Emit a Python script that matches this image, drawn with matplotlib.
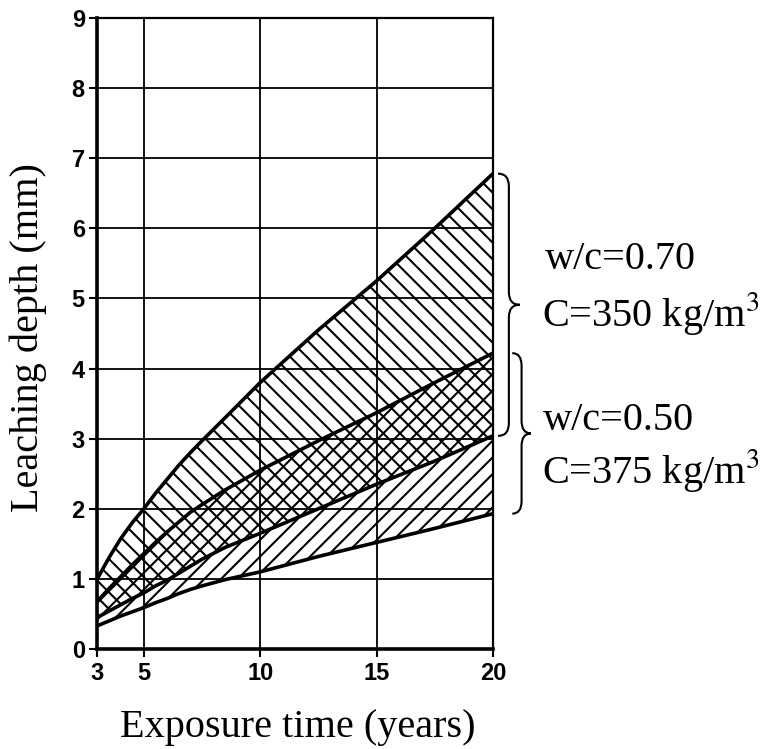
import matplotlib
matplotlib.use("Agg")
import matplotlib.pyplot as plt
from matplotlib.path import Path
from matplotlib.patches import PathPatch
from matplotlib.transforms import blended_transform_factory

plt.rcParams["hatch.linewidth"] = 1.5
plt.rcParams["hatch.color"] = "black"
plt.rcParams["mathtext.fontset"] = "stix"

# exposure time (years)
years = [3, 3.5, 4, 4.5, 5, 5.5, 6, 6.5, 7, 7.5, 8.5, 10, 12.5, 15, 17.5, 20]
# leaching depth (mm)
wc70_upper = [1.0, 1.3, 1.57, 1.8, 2.0, 2.22, 2.42, 2.62, 2.8, 2.97, 3.3,
              3.8, 4.55, 5.25, 6.0, 6.78]
wc50_upper = [0.68, 0.86, 1.03, 1.2, 1.36, 1.52, 1.67, 1.81, 1.95, 2.06, 2.27,
              2.55, 2.97, 3.37, 3.8, 4.22]
wc70_lower = [0.45, 0.54, 0.63, 0.72, 0.8, 0.9, 0.98, 1.08, 1.18, 1.28, 1.45,
              1.65, 2.0, 2.35, 2.68, 3.04]
wc50_lower = [0.33, 0.4, 0.47, 0.53, 0.59, 0.66, 0.72, 0.79, 0.85, 0.9, 0.99,
              1.1, 1.32, 1.52, 1.72, 1.93]

x_ticks = [3, 5, 10, 15, 20]
y_ticks = list(range(0, 10))

label_70 = ["w/c=0.70", "C=350 kg/m$^3$"]
label_50 = ["w/c=0.50", "C=375 kg/m$^3$"]

serif = "Liberation Serif"
sans = "Liberation Sans"

fig = plt.figure(figsize=(7.75, 7.49), dpi=100)
ax = fig.add_axes([0.1255, 0.1335, 0.5105, 0.8425])

# grid
for xv in x_ticks[1:-1]:
    ax.axvline(xv, color="black", lw=1.3, zorder=1)
for yv in y_ticks[1:-1]:
    ax.axhline(yv, color="black", lw=1.3, zorder=1)

# bands
ax.fill_between(years, wc70_lower, wc70_upper, facecolor="none",
                edgecolor="black", linewidth=0, hatch="\\\\", zorder=2)
ax.fill_between(years, wc50_lower, wc50_upper, facecolor="none",
                edgecolor="black", linewidth=0, hatch="//", zorder=2)

for yy in (wc70_upper, wc50_upper, wc70_lower, wc50_lower):
    ax.plot(years, yy, color="black", lw=2.6, zorder=3, solid_joinstyle="round")

ax.set_xlim(3, 20)
ax.set_ylim(0, 9)
ax.set_xticks(x_ticks)
ax.set_yticks(y_ticks)
ax.tick_params(direction="out", length=6, width=1.5, colors="black",
               labelsize=17, pad=3)
for lab in ax.get_xticklabels() + ax.get_yticklabels():
    lab.set_fontfamily(sans)
    lab.set_fontweight("bold")

for side in ("left", "bottom"):
    ax.spines[side].set_linewidth(2.6)
for side in ("top", "right"):
    ax.spines[side].set_linewidth(1.6)

ax.set_xlabel("Exposure time (years)", fontsize=29, family=serif, va="center")
ax.set_ylabel("Leaching depth (mm)", fontsize=29, family=serif, va="center")
ax.xaxis.set_label_coords(0.508, -0.124)
ax.yaxis.set_label_coords(-0.174, 0.493)


def draw_brace(x0, width, top, bot):
    mid = (top + bot) / 2
    r = 0.18
    w2 = width / 2
    verts = [
        (x0, top), (x0 + w2, top), (x0 + w2, top - r),
        (x0 + w2, mid + r),
        (x0 + w2, mid), (x0 + width, mid),
        (x0 + w2, mid), (x0 + w2, mid - r),
        (x0 + w2, bot + r),
        (x0 + w2, bot), (x0, bot),
    ]
    codes = [Path.MOVETO, Path.CURVE3, Path.CURVE3, Path.LINETO,
             Path.CURVE3, Path.CURVE3, Path.CURVE3, Path.CURVE3,
             Path.LINETO, Path.CURVE3, Path.CURVE3]
    trans = blended_transform_factory(fig.transFigure, ax.transData)
    patch = PathPatch(Path(verts, codes), fill=False, lw=1.5,
                      edgecolor="black", transform=trans, clip_on=False)
    fig.add_artist(patch)


draw_brace(0.6426, 0.028, wc70_upper[-1], wc70_lower[-1])
draw_brace(0.661, 0.024, wc50_upper[-1], wc50_lower[-1])

fig.text(0.703, 0.653, label_70[0], fontsize=29, family=serif, va="center")
fig.text(0.700, 0.582, label_70[1], fontsize=29, family=serif, va="center")
fig.text(0.700, 0.439, label_50[0], fontsize=29, family=serif, va="center")
fig.text(0.700, 0.372, label_50[1], fontsize=29, family=serif, va="center")

fig.savefig("out.png", dpi=100)
